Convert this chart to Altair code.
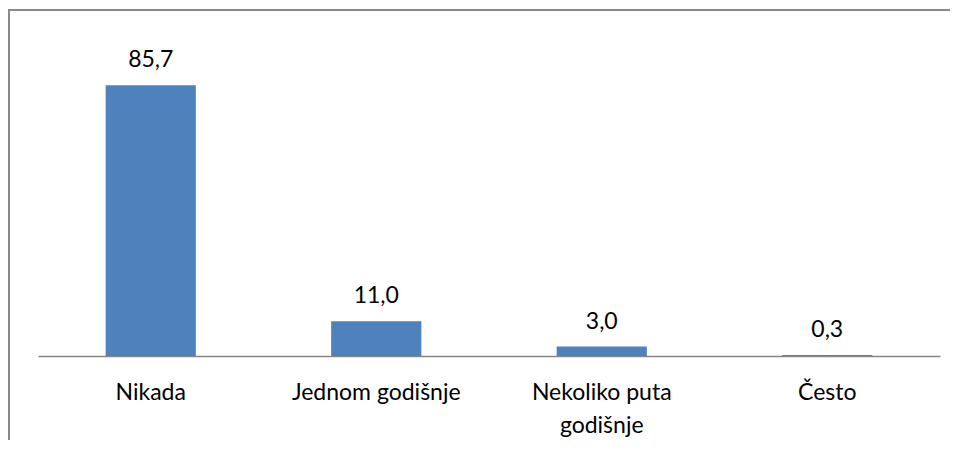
import altair as alt
import pandas as pd

categories = ["Nikada", "Jednom godišnje", "Nekoliko puta\ngodišnje", "Često"]
values = [85.7, 11.0, 3.0, 0.3]

df = pd.DataFrame({
    "cat": categories,
    "val": values,
    "lbl": [f"{v:.1f}".replace(".", ",") for v in values],
})

W, H = 902, 316
FONT = "Lato"

x = alt.X(
    "cat:N",
    sort=categories,
    scale=alt.Scale(paddingInner=0.6, paddingOuter=0.3),
    axis=alt.Axis(
        title=None, labelAngle=0, ticks=False, domainColor="#868686", domainWidth=1.5,
        labelFont=FONT, labelFontSize=23, labelColor="#000000", labelPadding=25,
        labelLineHeight=33, labelExpr="split(datum.label, '\\n')",
    ),
)
y = alt.Y("val:Q", scale=alt.Scale(domain=[0, 100]), axis=None)

bars = alt.Chart(df).mark_bar(color="#4F81BD").encode(x=x, y=y)
texts = alt.Chart(df).mark_text(
    font=FONT, fontSize=23, color="#000000", baseline="alphabetic", dy=-18
).encode(x=x, y=y, text="lbl:N")

left = alt.Chart(df).mark_rule(color="#888888", strokeWidth=2).encode(
    x=alt.value(-29), y=alt.value(-30), y2=alt.value(H + 90)
)
top = alt.Chart(df).mark_rule(color="#888888", strokeWidth=2).encode(
    x=alt.value(-30), x2=alt.value(W + 10), y=alt.value(-30)
)

chart = alt.layer(bars, texts, left, top).properties(
    width=W, height=H,
    padding={"left": 30, "top": 32, "right": 10, "bottom": 84},
    autosize=alt.AutoSizeParams(type="none"),
).configure_view(stroke=None)

chart.save("out.html", embed_options={"renderer": "svg", "actions": False})
